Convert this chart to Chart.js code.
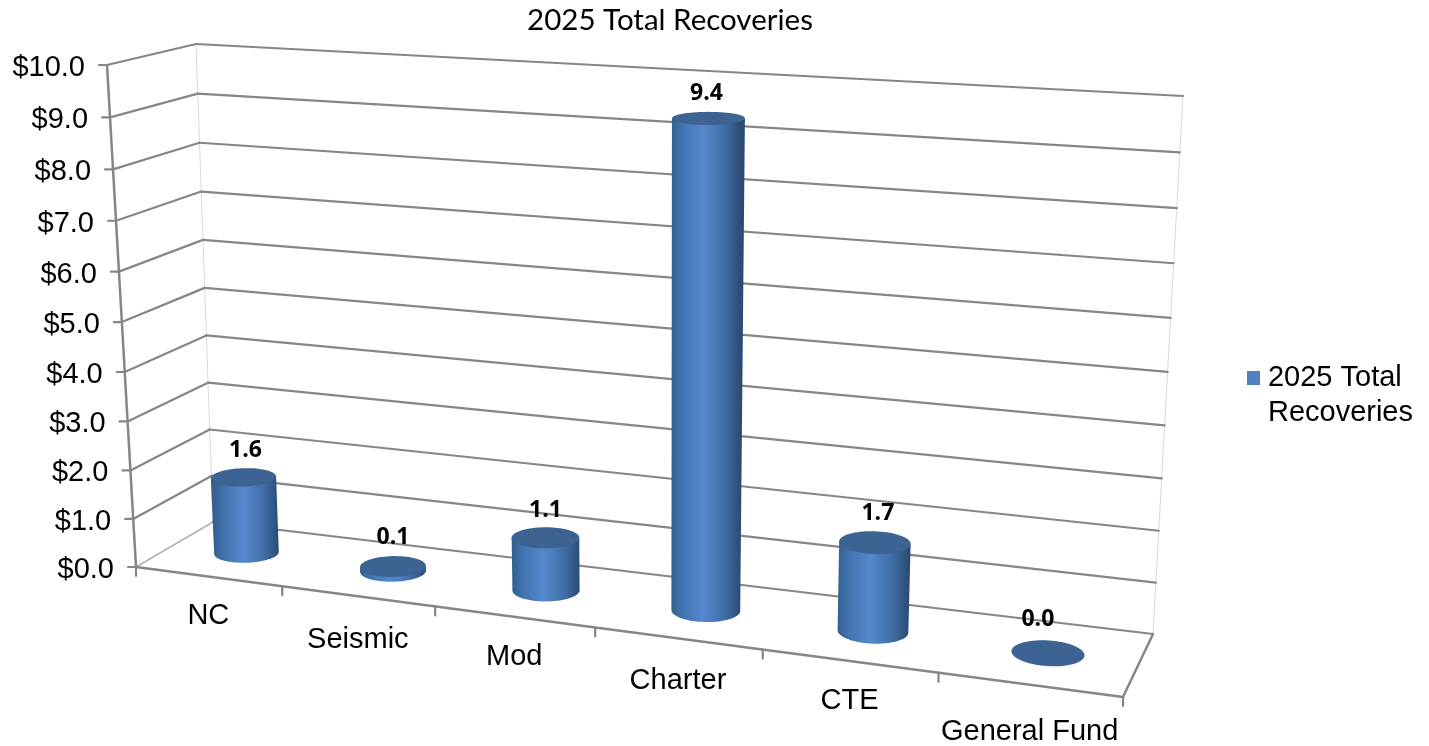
<!DOCTYPE html>
<html>
<head>
<meta charset="utf-8">
<style>html,body{margin:0;padding:0;background:#fff}canvas{display:block}</style>
<script src="https://cdn.jsdelivr.net/npm/chart.js@4"></script>
</head>
<body>
<canvas id="c" width="1429" height="746"></canvas>
<script>
const chartTitle = '2025 Total Recoveries';
const categories = ['NC', 'Seismic', 'Mod', 'Charter', 'CTE', 'General Fund'];
const recoveries = [1.6, 0.1, 1.1, 9.4, 1.7, 0.0];
const legendLines = ['2025 Total', 'Recoveries'];
const yMin = 0, yMax = 10, yStep = 1;

// Box corners of the 3-D view (layout only)
const FL0=[136,567], FR0=[1123,697], BR0=[1153,634], BL0=[213,522];
const FL1=[107,65],  FR1=[1146,133], BR1=[1183,96],  BL1=[196,44];
const labelNudge=[[2,0],[0,-2],[0,0],[-2,2],[3,-2],[-10,-7]];
const categoryLabelDrop=[39,44,40,43,40,47];

function homography(p0,p1,p2,p3){ // (0,0),(1,0),(1,1),(0,1)
  const [x0,y0]=p0,[x1,y1]=p1,[x2,y2]=p2,[x3,y3]=p3;
  const dx1=x1-x2,dx2=x3-x2,sx=x0-x1+x2-x3,dy1=y1-y2,dy2=y3-y2,sy=y0-y1+y2-y3;
  const den=dx1*dy2-dx2*dy1;
  const g=(sx*dy2-dx2*sy)/den,h=(dx1*sy-sx*dy1)/den;
  const a=x1-x0+g*x1,b=x3-x0+h*x3,d=y1-y0+g*y1,e=y3-y0+h*y3;
  return (u,v)=>{const q=g*u+h*v+1;return [(a*u+b*v+x0)/q,(d*u+e*v+y0)/q];};
}
const warp=(t,k)=>k*t/(1+(k-1)*t);
const floorRaw=homography(FL0,FR0,BR0,BL0);
const backRaw =homography(BL0,BR0,BR1,BL1);
const frontRaw=homography(FL0,FR0,FR1,FL1);
const leftRaw =homography(FL0,BL0,BL1,FL1);
const U_K=1.069, V_K_LEFT=1.088;
const vw=(v,u)=>warp(v,V_K_LEFT+(1-V_K_LEFT)*u);
const floorH=(u,w)=>floorRaw(warp(u,U_K),w);
const backH =(u,v)=>backRaw(u,vw(v,u));
const frontH=(u,v)=>frontRaw(u,vw(v,u));
const leftH =(w,v)=>leftRaw(w,vw(v,0));

function project(u,v,w){
  const f=floorH(u,w),a=frontH(u,v),a0=frontH(u,0),b=backH(u,v),b0=backH(u,0);
  return [f[0]+(a[0]-a0[0])*(1-w)+(b[0]-b0[0])*w, f[1]+(a[1]-a0[1])*(1-w)+(b[1]-b0[1])*w];
}
const BAR_DEPTH=0.5, DEPTH_RATIO=6;
const heightFactor=u=>u<0.5?0.93:1;

function line(ctx,p,q,color,width){
  ctx.beginPath();ctx.moveTo(p[0],p[1]);ctx.lineTo(q[0],q[1]);
  ctx.strokeStyle=color;ctx.lineWidth=width;ctx.stroke();
}
const normV=(s,t)=>(t-s.min)/(s.max-s.min);

class WallLinearScale extends Chart.LinearScale{
  _computeLabelArea(){return undefined;}
  _computeLabelItems(area){
    const items=super._computeLabelItems(area);
    items.forEach((it,i)=>{
      const p=leftH(0,normV(this,this.ticks[i].value));
      it.options.translation=[p[0]-22,p[1]+3];
      it.options.textAlign='right';
      it.options.textBaseline='middle';
    });
    return items;
  }
}
WallLinearScale.id='wallLinear';
WallLinearScale.defaults=Chart.LinearScale.defaults;
class FloorCategoryScale extends Chart.CategoryScale{
  _computeLabelArea(){return undefined;}
  _computeLabelItems(area){
    const items=super._computeLabelItems(area);
    items.forEach((it,i)=>{
      const u=(this.getPixelForTick(i)-this.left)/this.width;
      const p=floorH(u,0);
      it.options.translation=[p[0],p[1]+categoryLabelDrop[i]];
      it.options.textAlign='center';
      it.options.textBaseline='middle';
      it.textOffset=0;
    });
    return items;
  }
}
FloorCategoryScale.id='floorCategory';
FloorCategoryScale.defaults=Chart.CategoryScale.defaults;
Chart.register(WallLinearScale,FloorCategoryScale);

const legendSwatch=document.createElement('canvas');
legendSwatch.width=26;legendSwatch.height=14;
(()=>{const g=legendSwatch.getContext('2d');g.fillStyle='#4f81bd';g.fillRect(13,0,13,14);})();

const view3d={
  id:'view3d',
  afterLayout(chart){
    const t=chart.titleBlock,w=t.right-t.left; t.left=670-w/2; t.right=670+w/2;
    const l=chart.legend; l.top+=25; l.bottom+=25;
  },
  beforeDatasetsDraw(chart){
    const ctx=chart.ctx,{x:xs,y:ys}=chart.scales;
    const G='#868686';
    ctx.save();ctx.lineCap='round';
    line(ctx,BL0,BL1,'#d9d9d9',1);
    line(ctx,BR0,BR1,'#d9d9d9',1);
    ys.ticks.forEach(t=>{
      const v=normV(ys,t.value);
      const f=leftH(0,v),b=leftH(1,v),r=backH(1,v);
      const light=v===0;
      line(ctx,f,b,light?'#b0b0b0':G,light?1.5:2.2);
      line(ctx,b,r,G,2.2);
      line(ctx,[f[0]-8,f[1]],f,G,2.2);
    });
    line(ctx,FL0,FL1,G,2.5);
    line(ctx,FL0,FR0,G,2.5);
    line(ctx,FR0,BR0,G,2.5);
    for(let i=0;i<=categories.length;i++){
      const p=floorH(i/categories.length,0);
      line(ctx,p,[p[0],p[1]+9],G,2.2);
    }
    ctx.restore();
  },
  beforeDatasetDraw(chart,args){
    const ctx=chart.ctx,xs=chart.scales.x,area=chart.chartArea;
    args.meta.data.forEach(el=>{
      const props=el.getProps(['x','y','base','width'],true);
      const u=(props.x-xs.left)/xs.width;
      const v=heightFactor(u)*(props.base-props.y)/(area.bottom-area.top);
      const ru=props.width/2/xs.width, rw=ru*DEPTH_RATIO;
      const N=72,top=[],bot=[];
      for(let k=0;k<N;k++){
        const a=k/N*Math.PI*2;
        const uu=u+ru*Math.cos(a),ww=BAR_DEPTH+rw*Math.sin(a);
        top.push(project(uu,v,ww));bot.push(project(uu,0,ww));
      }
      if(v>0){
        const ext=(arr,sgn)=>arr.reduce((m,p,i)=>sgn*p[0]>sgn*arr[m][0]?i:m,0);
        const bl=ext(bot,-1),br=ext(bot,1),tl=ext(top,-1),tr=ext(top,1);
        const gr=ctx.createLinearGradient(bot[bl][0],0,bot[br][0],0);
        gr.addColorStop(0,'#33608f');gr.addColorStop(.14,'#3f72ad');
        gr.addColorStop(.46,'#5589cd');gr.addColorStop(.76,'#3f6fa9');gr.addColorStop(1,'#2c4c74');
        ctx.beginPath();
        ctx.moveTo(top[tl][0],top[tl][1]);
        ctx.lineTo(bot[bl][0],bot[bl][1]);
        for(let k=bl,c=0;c<N;c++){
          k=(k+1)%N; // nearer half of the base, left to right
          ctx.lineTo(bot[k][0],bot[k][1]);
          if(k===br)break;
        }
        ctx.lineTo(top[tr][0],top[tr][1]);
        ctx.closePath();
        ctx.fillStyle=gr;ctx.fill();
      }
      ctx.beginPath();
      top.forEach((p,i)=>i?ctx.lineTo(p[0],p[1]):ctx.moveTo(p[0],p[1]));
      ctx.closePath();
      ctx.fillStyle='#3c6392';ctx.fill();
    });
    return false;
  },
  afterDatasetsDraw(chart){
    const ctx=chart.ctx,xs=chart.scales.x,area=chart.chartArea;
    const meta=chart.getDatasetMeta(0);
    ctx.save();
    ctx.font='bold 23px "Open Sans", sans-serif';
    ctx.fillStyle='#000';ctx.textAlign='center';ctx.textBaseline='middle';
    meta.data.forEach((el,i)=>{
      const props=el.getProps(['x','y','base'],true);
      const u=(props.x-xs.left)/xs.width;
      const v=heightFactor(u)*(props.base-props.y)/(area.bottom-area.top);
      const p=project(u,v,BAR_DEPTH);
      ctx.fillText(recoveries[i].toFixed(1),p[0]+labelNudge[i][0],p[1]-27+labelNudge[i][1]);
    });
    ctx.restore();
  }
};

const axisFont={family:'"Liberation Sans", Arial, sans-serif',size:29};
new Chart(document.getElementById('c'),{
  type:'bar',
  data:{labels:categories,datasets:[{label:chartTitle,data:recoveries,backgroundColor:'#4f81bd',
    barPercentage:0.4,categoryPercentage:1}]},
  plugins:[view3d],
  options:{
    responsive:false,animation:false,devicePixelRatio:1,
    layout:{padding:{top:0,right:6,left:0,bottom:0}},
    plugins:{
      title:{display:true,text:chartTitle,color:'#000',font:{family:'Lato, "Open Sans", sans-serif',size:29.5,weight:'normal'},padding:{top:3,bottom:8}},
      legend:{display:true,position:'right',
        labels:{boxWidth:13,boxHeight:13,color:'#000',padding:0,usePointStyle:true,font:axisFont,
          generateLabels:()=>[{text:legendLines,fillStyle:'#4f81bd',strokeStyle:'#4f81bd',lineWidth:0,hidden:false,datasetIndex:0,pointStyle:legendSwatch}]}},
      tooltip:{enabled:false}
    },
    scales:{
      x:{type:'floorCategory',grid:{display:false},border:{display:false},
        ticks:{autoSkip:false,maxRotation:0,minRotation:0,color:'#000',font:axisFont}},
      y:{type:'wallLinear',min:yMin,max:yMax,grid:{display:false},border:{display:false},
        ticks:{stepSize:yStep,color:'#000',font:axisFont,callback:v=>'$'+v.toFixed(1)}}
    }
  }
});
</script>
</body>
</html>
